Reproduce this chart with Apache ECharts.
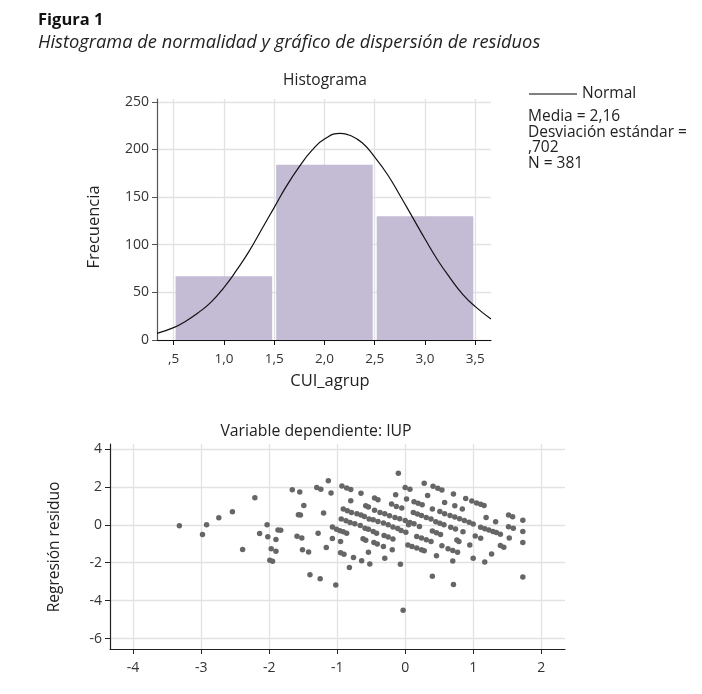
<!DOCTYPE html>
<html>
<head>
<meta charset="utf-8">
<script src="https://cdn.jsdelivr.net/npm/echarts@6/dist/echarts.min.js"></script>
<style>
  html,body{margin:0;padding:0;background:#fff;}
  #main{width:702px;height:694px;}
</style>
</head>
<body>
<div id="main"></div>
<script>
// histograma
var binStart = [0.5, 1.5, 2.5];
var binEnd = [1.5, 2.5, 3.5];
var binCount = [67, 184, 130];
// curva normal
var curveX = [0.335, 0.5, 0.625, 0.75, 0.875, 1.0, 1.125, 1.25, 1.375, 1.5, 1.625, 1.75, 1.875, 2.0, 2.16,
              2.25, 2.375, 2.5, 2.625, 2.75, 2.875, 3.0, 3.125, 3.25, 3.375, 3.5, 3.656];
var curveY = [7, 13, 20, 29, 40, 55, 73, 93, 116, 139, 162, 182, 199, 211, 217,
              215, 207, 192, 174, 152, 129, 106, 84, 65, 48, 35, 22];
var legendLines = ["Media = 2,16", "Desviación estándar =", ",702", "N = 381"];

// dispersion de residuos
var residX = [-3.32, -2.92, -2.98, -2.74, -2.54, -2.21, -2.39, -2.14, -2.03, -2.02, -1.97, -1.90, -1.90, -1.87, -1.83,
  -1.99, -1.95, -1.66, -1.55, -1.49, -1.57, -1.54, -1.59, -1.52, -1.51, -1.42, -1.40, -1.25, -1.30, -1.24,
  -1.13, -1.20, -1.28, -1.16,
  -1.09, -1.07, -1.07, -1.02, -1.01, -0.96, -0.91, -0.86, -0.95, -0.95, -0.90, -0.76, -0.64, -0.52, -0.82,
  -0.93, -0.86, -0.80, -0.65, -0.80, -0.45, -0.40, -0.58, -0.54, -0.20, -0.13, -0.05, -0.14, -0.10,
  -0.91, -0.85, -0.79, -0.71, -0.65, -0.60, -0.53, -0.45, -0.37, -0.30, -0.23, -0.15, -0.08, 0.00, 0.07, 0.13,
  -0.94, -0.87, -0.81, -0.74, -0.66, -0.59, -0.54, -0.47, -0.40, -0.32, -0.25, -0.18, -0.11,
  -0.47, -0.42, -0.31, -0.25, -0.18, -0.06, 0.01, -0.62, -0.58, -0.46, -0.41, -0.32, -0.19, -0.54, -0.30,
  -0.07, -0.03,
  0.00, 0.07, 0.02, 0.28, 0.33, 0.41, 0.48, 0.54, 0.71, 0.58, 0.73, 0.84, 0.89, 0.98, 1.05, 1.11, 1.16,
  0.13, 0.19, 0.25, 0.12, 0.18, 0.24, 0.31, 0.38, 0.45, 0.51, 0.57,
  0.40, 0.51, 0.58, 0.66, 0.73, 0.80, 0.87, 0.94, 1.00,
  0.05, 0.21, 0.40, 0.46, 0.52, 0.17, 0.24, 0.31, 0.38, 0.04, 0.10, 0.17, 0.24, 0.28, 0.46,
  0.54, 0.63, 0.70, 0.77, 0.76, 0.79, 0.85, 0.67, 0.74, 0.95, 1.03, 1.11,
  1.11, 1.17, 1.23, 1.29, 1.34, 1.40, 1.19, 1.33, 1.52, 1.58, 1.73, 1.52, 1.59, 1.73, 1.53, 1.73,
  1.40, 1.45, 1.27, 1.17, 1.00, 0.70, 1.73, 0.71, 0.40];
var residY = [-0.05, 0.00, -0.51, 0.37, 0.69, 1.43, -1.30, -0.46, 0.00, -0.63, -1.27, -0.77, -1.39, -0.27, -0.29,
  -1.87, -1.92, 1.85, 1.73, 1.02, 0.53, 0.51, -0.60, -0.70, -1.32, -1.44, -2.64, -2.85, 1.97, 1.87,
  2.32, 0.62, -0.44, -1.20,
  1.67, -0.12, -0.72, -3.17, -0.23, -0.32, -0.37, -0.44, -0.88, -1.48, -1.55, -1.72, -1.90, -2.07, -2.25,
  2.05, 1.94, 1.86, 1.66, 1.27, 1.41, 1.32, 1.00, 0.94, 1.09, 0.97, 0.88, 1.58, 2.72,
  0.83, 0.74, 0.65, 0.58, 0.52, 0.44, 0.30, 0.76, 0.65, 0.58, 0.48, 0.39, 0.32, 0.23, 0.12, 0.05,
  0.30, 0.21, 0.12, 0.05, -0.04, -0.18, -0.23, 0.26, 0.17, 0.09, 0.00, -0.12, -0.19,
  -0.35, -0.44, -0.56, -0.65, -0.75, -0.30, -0.40, -0.74, -0.81, -0.93, -1.01, -1.15, -1.32, -1.45, -1.77,
  -2.08, -4.51,
  1.97, 1.88, 1.36, 2.19, 1.55, 2.03, 1.93, 1.84, 1.62, 1.18, 1.00, 0.83, 1.38, 1.25, 1.15, 1.08, 1.02,
  1.22, 1.13, 1.05, 0.65, 0.57, 0.49, 0.39, 0.30, 0.16, 0.08, 0.00,
  0.83, 0.70, 0.58, 0.49, 0.41, 0.32, 0.23, 0.13, 0.04,
  0.00, -0.09, -0.33, -0.42, -0.51, -0.62, -0.70, -0.79, -0.88, -1.06, -1.15, -1.23, -1.32, -1.37, -1.63,
  -1.10, -1.27, -1.36, -1.45, -0.80, -0.88, -0.37, -0.13, -0.22, -1.07, -0.59, -0.71,
  -0.13, -0.21, -0.28, -0.35, -0.41, -0.50, 0.38, 0.16, 0.52, 0.43, 0.24, -0.10, -0.18, -0.36, -0.70, -0.94,
  -1.09, -1.18, -1.54, -1.96, -1.76, -1.91, -2.75, -3.15, -2.71];

var fontName = "'Open Sans', 'DejaVu Sans', sans-serif";
var textColor = "#222";
var gridColor = "#e2e2e2";

var barData = [];
for (var i = 0; i < binCount.length; i++) {
  barData.push([binStart[i], binEnd[i], binCount[i]]);
}
var curveData = [];
for (var i = 0; i < curveX.length; i++) {
  curveData.push([curveX[i], curveY[i]]);
}
var residData = [];
for (var i = 0; i < residX.length; i++) {
  residData.push([residX[i], residY[i]]);
}

function comma(v) {
  var s = String(Math.round(v * 10) / 10);
  if (s.indexOf(".") < 0 && Math.abs(v) < 10 && v % 1 === 0) s = s + ".0";
  s = s.replace(".", ",");
  if (s.indexOf("0,") === 0) s = s.substring(1);
  return s;
}

function txt(x, y, text, font, extra) {
  var el = { type: "text", x: x, y: y, style: { text: text, font: font + " " + fontName, fill: textColor, align: "left", verticalAlign: "middle" } };
  if (extra) {
    for (var k in extra) {
      if (k === "rotation") el.rotation = extra[k];
      else el.style[k] = extra[k];
    }
  }
  return el;
}

var legendGraphics = [
  { type: "line", shape: { x1: 529, y1: 94, x2: 577, y2: 94 }, style: { stroke: "#000", lineWidth: 1 } },
  txt(582, 94, "Normal", "15.5px")
];
for (var i = 0; i < legendLines.length; i++) {
  legendGraphics.push(txt(528, 116.5 + i * 15.6, legendLines[i], "15.5px"));
}

var chart = echarts.init(document.getElementById("main"));
var option = {
  backgroundColor: "#fff",
  animation: false,
  textStyle: { fontFamily: fontName },
  graphic: [
    txt(38, 20, "Figura 1", "bold 16.5px", { fill: "#111" }),
    txt(38, 43, "Histograma de normalidad y gráfico de dispersión de residuos", "italic 18.3px"),
    txt(325, 81, "Histograma", "15.5px", { align: "center" }),
    txt(330, 381, "CUI_agrup", "16.5px", { align: "center" }),
    txt(94, 227, "Frecuencia", "16.5px", { align: "center", rotation: Math.PI / 2 }),
    txt(316, 431, "Variable dependiente: IUP", "15.8px", { align: "center" }),
    txt(55, 547, "Regresión residuo", "15.5px", { align: "center", rotation: Math.PI / 2 })
  ].concat(legendGraphics),
  grid: [
    { left: 157, top: 99, width: 334, height: 241 },
    { left: 110, top: 444, width: 455, height: 205 }
  ],
  xAxis: [
    {
      type: "value", gridIndex: 0, min: 0.335, max: 3.656,
      axisLine: { onZero: false, lineStyle: { color: "#111", width: 1.2 } },
      axisTick: { length: 5, lineStyle: { color: "#111" } },
      axisLabel: { showMinLabel: false, showMaxLabel: false, color: "#333", fontSize: 13.5, margin: 12, formatter: comma },
      splitLine: { show: true, showMinLine: false, showMaxLine: false, lineStyle: { color: gridColor, width: 1.3 } }
    },
    {
      type: "value", gridIndex: 1, min: -4.34, max: 2.35,
      axisLine: { onZero: false, lineStyle: { color: "#222", width: 1.2 } },
      axisTick: { length: 5, lineStyle: { color: "#222" } },
      axisLabel: { showMinLabel: false, showMaxLabel: false, color: "#333", fontSize: 14, margin: 12 },
      splitLine: { show: true, showMinLine: false, showMaxLine: false, lineStyle: { color: gridColor, width: 1.3 } }
    }
  ],
  yAxis: [
    {
      type: "value", gridIndex: 0, min: 0, max: 253, interval: 50,
      axisLine: { show: true, onZero: false, lineStyle: { color: "#555", width: 1.2 } },
      axisTick: { show: true, length: 5, lineStyle: { color: "#555" } },
      axisLabel: { showMaxLabel: false, color: "#333", fontSize: 14, margin: 8 },
      splitLine: { show: true, showMaxLine: false, lineStyle: { color: gridColor, width: 1.3 } }
    },
    {
      type: "value", gridIndex: 1, min: -6.55, max: 4.26,
      axisLine: { show: true, onZero: false, lineStyle: { color: "#222", width: 1.2 } },
      axisTick: { show: true, length: 5, lineStyle: { color: "#222" } },
      axisLabel: { showMinLabel: false, showMaxLabel: false, color: "#333", fontSize: 14, margin: 8 },
      splitLine: { show: true, showMinLine: false, showMaxLine: false, lineStyle: { color: gridColor, width: 1.3 } }
    }
  ],
  series: [
    {
      type: "custom", xAxisIndex: 0, yAxisIndex: 0, data: barData,
      renderItem: function (params, api) {
        var p0 = api.coord([api.value(0), api.value(2)]);
        var p1 = api.coord([api.value(1), 0]);
        return {
          type: "rect",
          shape: { x: p0[0] + 2, y: p0[1], width: p1[0] - p0[0] - 4, height: p1[1] - p0[1] },
          style: { fill: "#c3bcd4" }
        };
      },
      encode: { x: [0, 1], y: 2 },
      z: 2
    },
    {
      type: "line", xAxisIndex: 0, yAxisIndex: 0, data: curveData,
      smooth: true, showSymbol: false, symbol: "none",
      lineStyle: { color: "#111", width: 1.2 }, z: 3
    },
    {
      type: "scatter", xAxisIndex: 1, yAxisIndex: 1, data: residData,
      symbolSize: 5.5, itemStyle: { color: "#666", opacity: 1 }
    }
  ]
};
chart.setOption(option);
</script>
</body>
</html>
